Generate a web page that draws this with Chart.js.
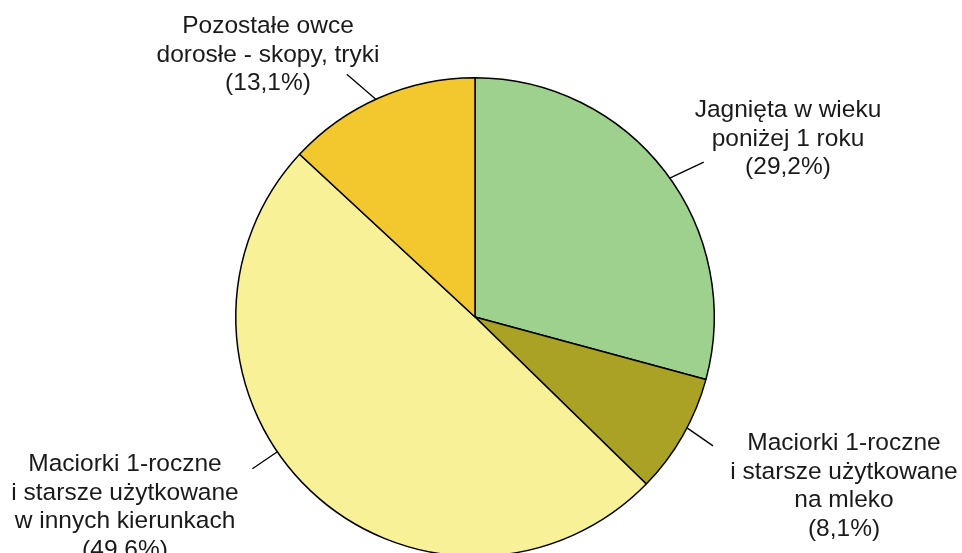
<!DOCTYPE html>
<html>
<head>
<meta charset="utf-8">
<script src="https://cdn.jsdelivr.net/npm/chart.js@4.4.1/dist/chart.umd.min.js"></script>
<style>
    html, body { margin: 0; padding: 0; background: #fff; overflow: hidden; }
    #wrap { width: 962px; height: 553px; overflow: hidden; }
</style>
</head>
<body>
<div id="wrap"><canvas id="pie" width="962" height="640"></canvas></div>
<script>
// Data
const categories = [
    ['Jagnięta w wieku', 'poniżej 1 roku'],
    ['Maciorki 1-roczne', 'i starsze użytkowane', 'na mleko'],
    ['Maciorki 1-roczne', 'i starsze użytkowane', 'w innych kierunkach'],
    ['Pozostałe owce', 'dorosłe - skopy, tryki']
];
const shares = [29.2, 8.1, 49.6, 13.1];
const colors = ['#9fd18e', '#aaa224', '#f8f198', '#f3c72e'];

// label layout: text centre x, first baseline y, leader anchor angle (deg from top), leader vector
const labelLayout = [
    { x: 788, y: 117, angle: 54.5, dx: 34, dy: -16 },
    { x: 844, y: 450, angle: 117.6, dx: 26, dy: 18 },
    { x: 125, y: 471, angle: 235.7, dx: -25, dy: 17 },
    { x: 268, y: 33, angle: 335.5, dx: -29, dy: -25 }
];
const lineHeight = 28.6;

const labelPlugin = {
    id: 'pieLabels',
    afterDatasetsDraw(chart) {
        const ctx = chart.ctx;
        const arcs = chart.getDatasetMeta(0).data;
        ctx.save();
        ctx.strokeStyle = '#000';
        ctx.lineWidth = 1.3;
        arcs.forEach((arc, i) => {
            const L = labelLayout[i];
            const a = (L.angle - 90) * Math.PI / 180;
            const sx = arc.x + Math.cos(a) * arc.outerRadius;
            const sy = arc.y + Math.sin(a) * arc.outerRadius;
            ctx.beginPath();
            ctx.moveTo(sx, sy);
            ctx.lineTo(sx + L.dx, sy + L.dy);
            ctx.stroke();
        });
        ctx.fillStyle = '#1a1a1a';
        ctx.font = '24.5px "Liberation Sans", Arial, sans-serif';
        ctx.textAlign = 'center';
        ctx.textBaseline = 'alphabetic';
        categories.forEach((lines, i) => {
            const all = lines.concat(['(' + shares[i].toFixed(1).replace('.', ',') + '%)']);
            all.forEach((t, j) => {
                ctx.fillText(t, labelLayout[i].x, labelLayout[i].y + j * lineHeight);
            });
        });
        ctx.restore();
    }
};

new Chart(document.getElementById('pie'), {
    type: 'pie',
    data: {
        labels: categories.map(c => c.join(' ')),
        datasets: [{
            data: shares,
            backgroundColor: colors,
            borderColor: '#000',
            borderWidth: 1.5
        }]
    },
    options: {
        responsive: false,
        animation: false,
        layout: { padding: { left: 235, right: 247, top: 77, bottom: 83 } },
        plugins: {
            legend: { display: false },
            tooltip: { enabled: false }
        }
    },
    plugins: [labelPlugin]
});
</script>
</body>
</html>
